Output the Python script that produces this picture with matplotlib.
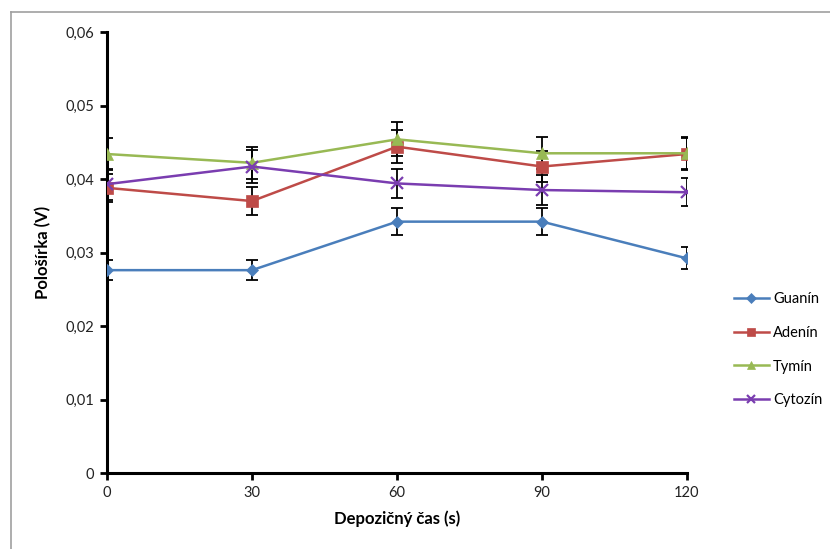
import numpy as np
import matplotlib.pyplot as plt
from matplotlib.lines import Line2D

plt.rcParams['font.family'] = ['Lato', 'DejaVu Sans']

# Deposition time (s)
cas = [0, 30, 60, 90, 120]

guanin = [0.0276, 0.0276, 0.0342, 0.0342, 0.0292]
guanin_err = [0.0014, 0.0014, 0.0018, 0.0018, 0.0015]

adenin = [0.0388, 0.0370, 0.0444, 0.0417, 0.0434]
adenin_err = [0.0019, 0.0019, 0.0022, 0.0021, 0.0022]

tymin = [0.0434, 0.0422, 0.0454, 0.0435, 0.0435]
tymin_err = [0.0022, 0.0022, 0.0023, 0.0022, 0.0022]

cytozin = [0.0393, 0.0417, 0.0394, 0.0385, 0.0382]
cytozin_err = [0.0021, 0.0022, 0.0020, 0.0020, 0.0019]

names = ['Guanín', 'Adenín', 'Tymín', 'Cytozín']
colors = ['#4a7ebb', '#be4b48', '#98b954', '#7a3db0']
markers = ['D', 's', '^', 'x']
msizes = [6, 8, 8, 8]

fig = plt.figure(figsize=(8.3, 5.49), dpi=100)
ax = fig.add_axes([0.1289, 0.1384, 0.8277 - 0.1289, 0.9417 - 0.1384])

# thin gray frame of the chart area (top and left only)
fig.add_artist(Line2D([0.0133, 0.0133], [0.0, 0.978], color='#a0a0a0', lw=1.2))
fig.add_artist(Line2D([0.0133, 1.0], [0.978, 0.978], color='#a0a0a0', lw=1.2))

series = [guanin, adenin, tymin, cytozin]
errs = [guanin_err, adenin_err, tymin_err, cytozin_err]

# error bars first, lines over them
for y, e in zip(series, errs):
    ax.errorbar(cas, y, yerr=e, fmt='none', ecolor='black', elinewidth=1.3,
                capsize=4, capthick=1.3, zorder=2)

handles = []
for y, c, m, ms, n in zip(series, colors, markers, msizes, names):
    mew = 1.6 if m == 'x' else 0.5
    h, = ax.plot(cas, y, color=c, lw=1.8, marker=m, markersize=ms,
                 markeredgewidth=mew, markeredgecolor=c, label=n, zorder=3)
    handles.append(h)

ax.set_xlim(0, 120)
ax.set_ylim(0, 0.06)
ax.set_xticks(cas)
ax.set_yticks(np.arange(0, 0.061, 0.01))
ax.set_yticklabels(['0', '0,01', '0,02', '0,03', '0,04', '0,05', '0,06'])

for s in ['top', 'right']:
    ax.spines[s].set_visible(False)
for s in ['left', 'bottom']:
    ax.spines[s].set_linewidth(2.2)
    ax.spines[s].set_color('black')
ax.tick_params(direction='out', length=5, width=2, labelsize=10.5,
               colors='black', labelcolor='#222222', pad=4)

ax.set_xlabel('Depozičný čas (s)', fontsize=12, fontweight='bold', labelpad=8)
ax.set_ylabel('Pološírka (V)', fontsize=12, fontweight='bold', labelpad=10)

fig.legend(handles=handles, loc='center left', bbox_to_anchor=(0.868, 0.363),
           frameon=False, fontsize=10.5, handlelength=2.4, labelspacing=1.35,
           handletextpad=0.3, markerscale=0.8)

fig.savefig('out.png', dpi=100)
